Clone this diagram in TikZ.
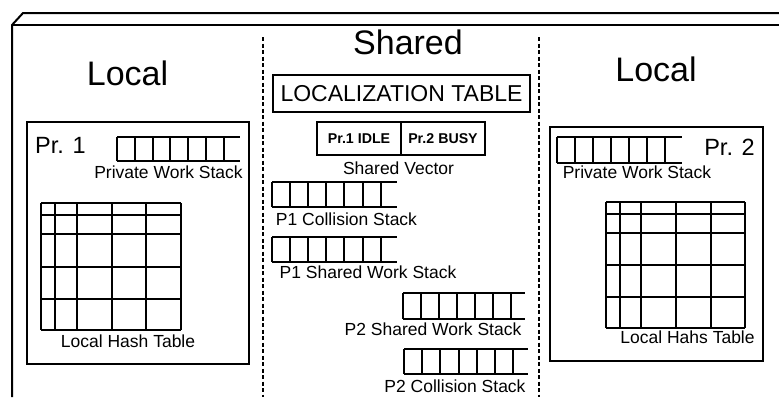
\documentclass[tikz,border=0pt]{standalone}
\usepackage{fontspec}
\setmainfont{Liberation Sans}
\tikzset{
  ln/.style={line width=2pt},
  big/.style={font=\fontsize{34}{40}\selectfont, inner sep=0pt, anchor=base},
  prl/.style={font=\fontsize{23.5}{28}\selectfont, inner sep=0pt},
  lbl/.style={font=\fontsize{17.5}{21}\selectfont, inner sep=0pt, anchor=base},
  vec/.style={draw, line width=2pt, font=\bfseries\fontsize{14.2}{17}\selectfont, inner sep=0pt},
  dline/.style={line width=2pt, dash pattern=on 4pt off 2.5pt}
}
\newcommand{\stk}[5]{%
  \draw[ln] (#1,#2) -- (#4,#2);
  \draw[ln] (#1,#3) -- (#4,#3);
  \foreach \i in {0,...,6} \draw[ln] ({#1+\i*#5},#2) -- ({#1+\i*#5},#3);
}
\newcommand{\htab}[2]{%
  \foreach \xx in {#1} \draw[ln] (\xx,{\firsty}) -- (\xx,{\lasty});
  \foreach \yy in {#2} \draw[ln] ({\firstx},\yy) -- ({\lastx},\yy);
}
\begin{document}
\begin{tikzpicture}[x=1pt,y=-1pt]
\useasboundingbox (0,0) rectangle (779,397);
% outer frame
\coordinate (fa) at (12,397);
\coordinate (fb) at (12,25);
\coordinate (fc) at (23,13);
\coordinate (fd) at (779,13);
\coordinate (fe) at (779,25);
\draw[ln] (fa) -- (fb) -- (fc) -- (fd);
\draw[ln] (fb) -- (fe);
% dashed separators
\coordinate (s1t) at (263,37); \coordinate (s1b) at (263,397);
\coordinate (s2t) at (539,37); \coordinate (s2b) at (539,397);
\draw[dline] (s1t) -- (s1b);
\draw[dline] (s2t) -- (s2b);
% titles
\node[big] (locl) at (127.5,85) {Local};
\node[big] (shared) at (408,54) {Shared};
\node[big] (locr) at (656,81) {Local};
% processor boxes
\draw[ln] (27,122) rectangle (249,364);
\draw[ln] (550,127) rectangle (763,361);
\node[prl, anchor=base west] (pr1) at (35,153) {Pr. 1};
\node[prl, anchor=base east] (pr2) at (755,155) {Pr. 2};
% localization table
\node[draw, line width=2pt, minimum width=257pt, minimum height=37pt, inner sep=0pt,
      font=\fontsize{23}{27}\selectfont] (lt) at (401.5,93.5) {LOCALIZATION TABLE};
% shared vector
\node[vec, minimum width=84pt, minimum height=33pt] (v1) at (359,138.5) {Pr.1 IDLE};
\node[vec, minimum width=84pt, minimum height=33pt] (v2) at (443,138.5) {Pr.2 BUSY};
\node[lbl] (svl) at (398.5,174) {Shared Vector};
% stacks
\stk{117}{137}{161}{240}{17.8}
\node[lbl] (pwsl) at (168.5,178) {Private Work Stack};
\stk{557}{137}{163}{682}{18}
\node[lbl] (pwsr) at (637,178) {Private Work Stack};
\stk{272}{182}{207}{397}{18.1}
\node[lbl] (p1c) at (346.5,225) {P1 Collision Stack};
\stk{272}{237}{262}{397}{18.1}
\node[lbl] (p1s) at (368,278) {P1 Shared Work Stack};
\stk{403}{293}{319}{525}{18}
\node[lbl] (p2s) at (433,335) {P2 Shared Work Stack};
\stk{404}{349}{374}{528}{18.2}
\node[lbl] (p2c) at (455,392) {P2 Collision Stack};
% hash tables
\def\firstx{41}\def\lastx{181}\def\firsty{203}\def\lasty{330}
\htab{41,55,77,112,146,181}{203,215,234,267,299,330}
\node[lbl] (lht) at (128,347) {Local Hash Table};
\def\firstx{606}\def\lastx{745}\def\firsty{202}\def\lasty{328}
\htab{606,620,641,676,711,745}{202,214,233,265,297,328}
\node[lbl] (rht) at (687.5,343) {Local Hahs Table};
\end{tikzpicture}
\end{document}
